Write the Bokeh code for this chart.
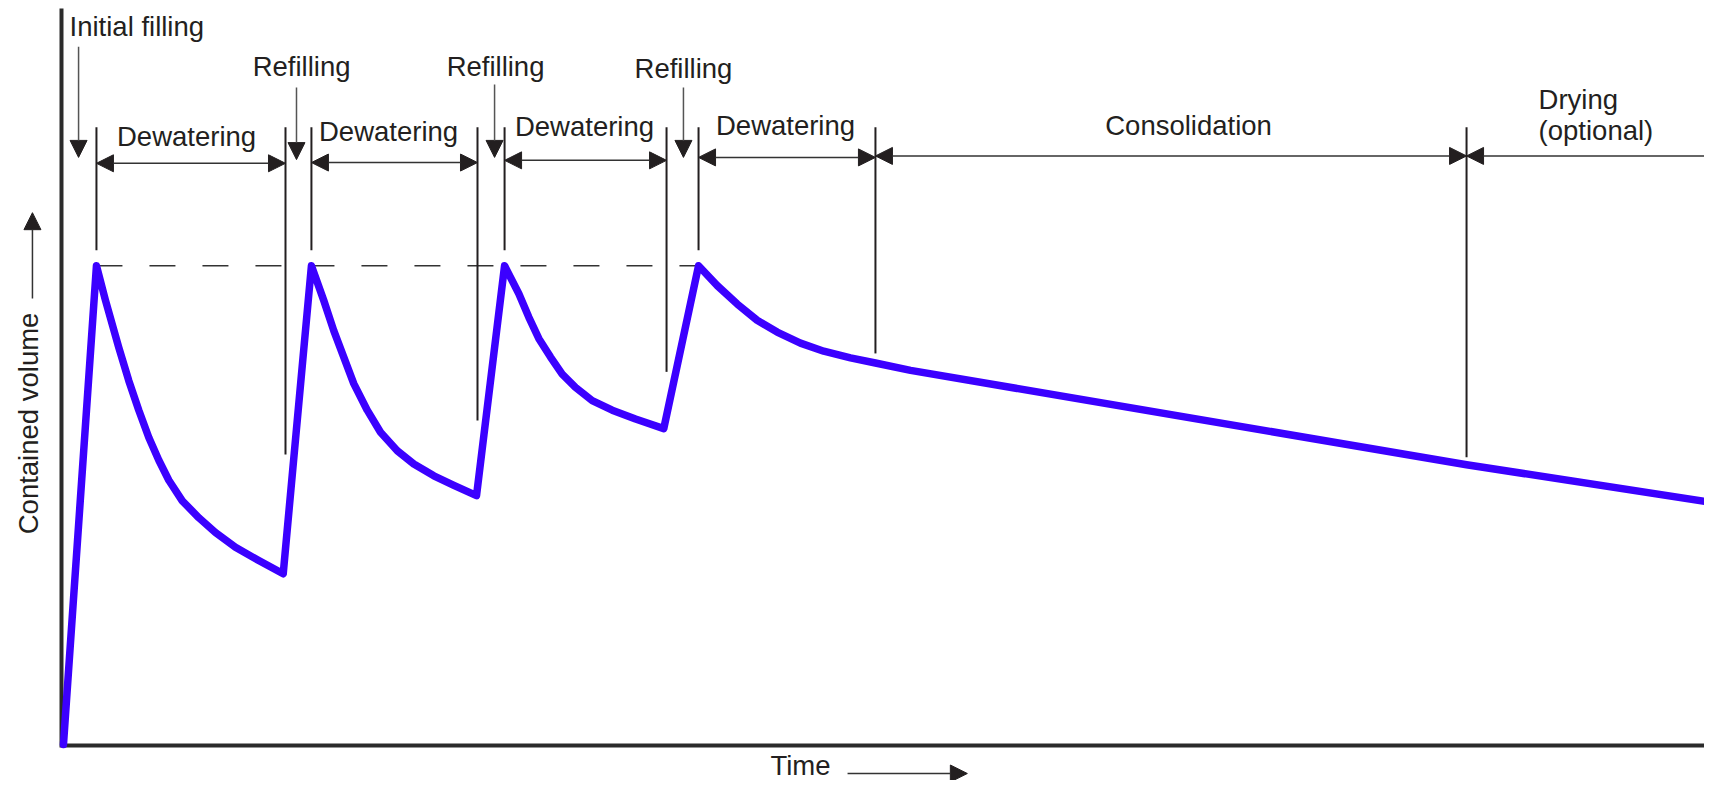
from math import pi
from bokeh.plotting import figure
from bokeh.models import Range1d, Arrow, NormalHead, Label
from bokeh.embed import file_html
from bokeh.resources import INLINE

# ---- data (time and volume in arbitrary units) ----
time = [0.12, 2.13, 2.68, 3.49, 4.10, 4.71, 5.32, 5.93, 6.54, 7.36, 8.37, 9.38, 10.60, 12.02, 13.51,
        15.23, 15.98, 16.59, 17.20, 17.81, 18.63, 19.44, 20.46, 21.47, 22.69, 23.91, 25.29,
        27.00, 27.87, 28.48, 29.09, 29.80, 30.51, 31.32, 32.34, 33.56, 34.98, 36.70,
        38.82, 39.96, 41.18, 42.39, 43.61, 45.03, 46.45, 48.08, 49.60, 51.74, 85.62, 100.49]
volume = [0.14, 65.1, 60.4, 54.0, 49.5, 45.5, 41.8, 38.7, 36.0, 33.2, 30.9, 28.9, 26.9, 25.1, 23.3,
          65.1, 60.4, 56.3, 52.7, 49.1, 45.5, 42.5, 40.0, 38.2, 36.6, 35.3, 33.9,
          65.1, 61.3, 58.1, 55.2, 52.7, 50.4, 48.6, 46.8, 45.5, 44.3, 43.0,
          65.1, 62.4, 59.9, 57.7, 56.1, 54.6, 53.5, 52.6, 51.9, 50.9, 38.1, 33.0]

peak_level = 65.1
peak_first_t = 2.13
peak_last_t = 38.82

marker_t = [2.13, 13.65, 15.23, 25.35, 27.00, 36.87, 38.82, 49.60, 85.62]
marker_top = [83.9, 83.9, 83.9, 83.9, 83.9, 83.9, 83.9, 83.9, 83.9]
marker_bottom = [67.2, 39.5, 67.2, 44.1, 67.2, 50.7, 67.2, 53.2, 39.1]

phase_labels = ["Dewatering", "Dewatering", "Dewatering", "Dewatering", "Consolidation"]
phase_start = [2.13, 15.23, 27.00, 38.82, 49.60]
phase_end = [13.65, 25.35, 36.87, 49.60, 85.62]
phase_arrow_v = [79.0, 79.1, 79.4, 79.8, 80.0]
phase_label_t = [7.62, 19.93, 31.87, 44.12, 68.68]
phase_label_v = [81.1, 81.8, 82.5, 82.6, 82.6]

drying_labels = ["Drying", "(optional)"]
drying_start, drying_end, drying_arrow_v = 85.62, 100.5, 80.0
drying_label_t = [90.01, 90.01]
drying_label_v = [86.2, 82.0]

fill_labels = ["Initial filling", "Refilling", "Refilling", "Refilling"]
fill_arrow_t = [1.04, 14.32, 26.39, 37.90]
fill_arrow_top = [94.8, 89.3, 89.7, 89.3]
fill_arrow_tip = [79.8, 79.5, 79.8, 79.8]
fill_label_t = [0.49, 14.63, 26.45, 37.90]
fill_label_v = [96.1, 90.6, 90.6, 90.4]
fill_label_align = ["left", "center", "center", "center"]

x_label, y_label = "Time", "Contained volume"

# ---- styling ----
INK = "#231f20"
BLUE = "#3b00ff"
FONT = "Liberation Sans"
FS = "27.5px"
DY = 1.49  # baseline correction for the text renderer

p = figure(width=1704, height=780,
           x_range=Range1d(-3.717, 100.12), y_range=Range1d(-4.749, 101.09),
           output_backend="svg", toolbar_location=None, min_border=0, title=None)
p.axis.visible = False
p.grid.visible = False
p.outline_line_color = None
p.background_fill_color = "white"
p.border_fill_color = "white"

def head():
    return NormalHead(size=17, fill_color=INK, line_color=INK, line_width=1)

def label(x, y, text, align="center", **kw):
    return Label(x=x, y=y + DY, text=text, text_font=FONT, text_font_size=FS,
                 text_align=align, text_baseline="alphabetic", text_color=INK, **kw)

# axes
p.line([0, 0, 100.5], [100.0, 0, 0], line_width=4, color="#2b2b2b", line_join="miter")

# dashed peak level
p.line([peak_first_t, peak_last_t], [peak_level, peak_level],
       line_width=1.5, color="#333333", line_dash="26 27")

# vertical phase markers
p.segment(x0=marker_t, y0=marker_bottom, x1=marker_t, y1=marker_top,
          line_width=2, color=INK)

# curve
p.line(time, volume, line_width=7.5, color=BLUE, line_join="round", line_cap="round")

# phase arrows + labels
for lab, s, e, av, lt, lv in zip(phase_labels, phase_start, phase_end,
                                 phase_arrow_v, phase_label_t, phase_label_v):
    p.add_layout(Arrow(start=head(), end=head(), x_start=s, y_start=av,
                       x_end=e, y_end=av, line_width=1.5, line_color="#333333"))
    p.add_layout(label(lt, lv, lab))

p.add_layout(Arrow(start=head(), end=None, x_start=drying_start, y_start=drying_arrow_v,
                   x_end=drying_end, y_end=drying_arrow_v, line_width=1.5, line_color="#333333"))
for lab, lt, lv in zip(drying_labels, drying_label_t, drying_label_v):
    p.add_layout(label(lt, lv, lab, align="left"))

# filling arrows + labels
for lab, at, atop, atip, lt, lv, al in zip(fill_labels, fill_arrow_t, fill_arrow_top,
                                           fill_arrow_tip, fill_label_t, fill_label_v,
                                           fill_label_align):
    p.add_layout(Arrow(end=head(), start=None, x_start=at, y_start=atop,
                       x_end=at, y_end=atip, line_width=1.5, line_color="#555555"))
    p.add_layout(label(lt, lv, lab, align=al))

# axis titles with arrows
p.add_layout(Label(x=-2.01, y=43.7, text=y_label, angle=pi / 2, text_font=FONT,
                   text_font_size=FS, text_align="center", text_baseline="middle",
                   text_color=INK))
p.add_layout(Arrow(end=head(), start=None, x_start=-1.77, y_start=60.65,
                   x_end=-1.77, y_end=72.3, line_width=1.5, line_color="#333333"))

p.add_layout(label(43.2, -4.20, x_label, align="left"))
p.add_layout(Arrow(end=head(), start=None, x_start=47.9, y_start=-3.80,
                   x_end=55.2, y_end=-3.80, line_width=1.5, line_color="#333333"))

open("out.html", "w").write(file_html(p, INLINE))
